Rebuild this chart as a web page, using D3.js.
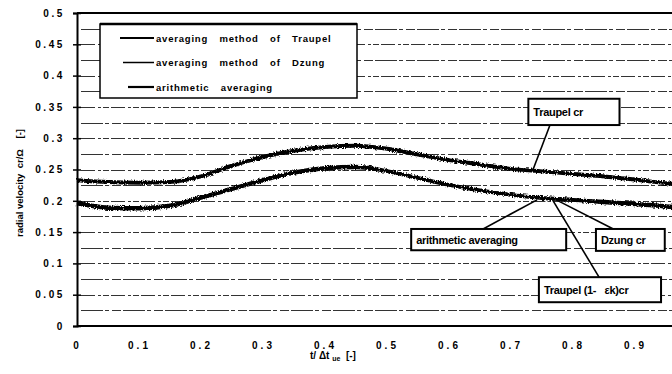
<!DOCTYPE html>
<html>
<head>
<meta charset="utf-8">
<script src="https://cdn.jsdelivr.net/npm/d3@7"></script>
<style>
  body { margin: 0; background: #fff; }
  svg { display: block; }
  text { font-family: "Liberation Sans", Arial, sans-serif; fill: #000; white-space: pre; }
</style>
</head>
<body>
<div id="chart"></div>
<script>
// chart values
const timeSteps   = [0, 0.05, 0.1, 0.15, 0.2, 0.25, 0.3, 0.35, 0.4, 0.45, 0.5, 0.55, 0.6, 0.65, 0.7, 0.75, 0.8, 0.85, 0.9, 0.95, 1.0];
const traupel     = [0.233, 0.230, 0.229, 0.230, 0.239, 0.256, 0.270, 0.280, 0.286, 0.288, 0.283, 0.274, 0.265, 0.258, 0.251, 0.247, 0.243, 0.239, 0.234, 0.228, 0.225];
const dzung       = [0.195, 0.188, 0.187, 0.191, 0.204, 0.218, 0.232, 0.244, 0.251, 0.253, 0.247, 0.236, 0.225, 0.216, 0.209, 0.204, 0.201, 0.197, 0.194, 0.190, 0.186];
const arithmetic  = [0.197, 0.190, 0.189, 0.193, 0.206, 0.220, 0.234, 0.246, 0.253, 0.255, 0.248, 0.237, 0.226, 0.217, 0.210, 0.205, 0.202, 0.199, 0.196, 0.192, 0.188];
const yTicks      = [0, 0.05, 0.1, 0.15, 0.2, 0.25, 0.3, 0.35, 0.4, 0.45, 0.5];
const xTicks      = [0, 0.1, 0.2, 0.3, 0.4, 0.5, 0.6, 0.7, 0.8, 0.9, 1];
const legendNames = ["averaging method of Traupel", "averaging method of Dzung", "arithmetic averaging"];

const width = 672, height = 374;
const margin = {top: 13, left: 77, bottom: 48};

let svg = d3.select("#chart").append("svg")
    .attr("width", width)
    .attr("height", height);

// rough scan look for the measured curves
let defs = svg.append("defs");
let rough = defs.append("filter").attr("id", "rough")
    .attr("x", "-5%").attr("y", "-20%").attr("width", "110%").attr("height", "140%");
rough.append("feTurbulence").attr("type", "fractalNoise").attr("baseFrequency", "0.9 0.6")
    .attr("numOctaves", 2).attr("seed", 3).attr("result", "noise");
rough.append("feDisplacementMap").attr("in", "SourceGraphic").attr("in2", "noise")
    .attr("scale", 4).attr("xChannelSelector", "R").attr("yChannelSelector", "G");

let x = d3.scaleLinear().domain([0, 1]).range([margin.left, 697]);
let y = d3.scaleLinear().domain([0, 0.5]).range([height - margin.bottom, margin.top]);

// horizontal dashed grid every 0.025
let gridVals = d3.range(1, 20).map(i => i * 0.025);
svg.append("g").selectAll("line").data(gridVals).enter()
    .append("line")
    .attr("x1", x(0) + 4).attr("x2", width)
    .attr("y1", d => Math.round(y(d)) + 0.5).attr("y2", d => Math.round(y(d)) + 0.5)
    .attr("stroke", "#333")
    .attr("stroke-width", 1)
    .attr("stroke-dasharray", (d, i) => i % 2 ? "14 3 3 2 6 2" : "22 2 4 3 9 2");

// frame: top, bottom, left
svg.append("line").attr("x1", x(0)).attr("x2", width).attr("y1", y(0.5)).attr("y2", y(0.5))
    .attr("stroke", "#000").attr("stroke-width", 2);
svg.append("line").attr("x1", x(0)).attr("x2", width).attr("y1", y(0)).attr("y2", y(0))
    .attr("stroke", "#000").attr("stroke-width", 2);

// y axis
let yAxis = svg.append("g")
    .attr("transform", `translate(${x(0)},0)`)
    .call(d3.axisLeft(y).tickValues(yTicks).tickSize(4).tickPadding(8)
        .tickFormat(d => d === 0 ? "0" : d3.format("")(+d.toFixed(2))));
yAxis.select(".domain").attr("stroke", "#000").attr("stroke-width", 2);
yAxis.selectAll(".tick line").attr("stroke", "#000").attr("stroke-width", 1.5).attr("x2", 4).attr("x1", -4);
yAxis.selectAll(".tick text")
    .style("font-size", "10px").style("font-weight", "bold").style("letter-spacing", "2.6px");

// x axis (the "1" label sits at the cropped right edge, as in the scan)
let xAxis = svg.append("g")
    .attr("transform", `translate(0,${y(0)})`)
    .call(d3.axisBottom(x).tickValues(xTicks).tickSize(0).tickPadding(16)
        .tickFormat(d => d === 0 || d === 1 ? String(d) : d3.format("")(+d.toFixed(1))));
xAxis.select(".domain").remove();
xAxis.selectAll(".tick text")
    .style("font-size", "10px").style("font-weight", "bold").style("letter-spacing", "3px");

// axis titles
let yTitle = svg.append("text")
    .attr("transform", `translate(23, ${183}) rotate(-90)`)
    .style("text-anchor", "middle")
    .style("font-size", "9.5px")
    .style("font-weight", "bold");
yTitle.append("tspan").text("radial velocity  cr/\u03a9    [-]");

let xTitle = svg.append("text")
    .attr("x", 310).attr("y", 359)
    .style("font-size", "10px").style("font-weight", "bold");
xTitle.append("tspan").text("t/ \u0394t ");
xTitle.append("tspan").attr("dy", 2).style("font-size", "7px").text("ue");
xTitle.append("tspan").attr("dy", -2).text("  [-]");

// curves
let line = d3.line()
    .x((d, i) => x(timeSteps[i]))
    .y(d => y(d))
    .curve(d3.curveMonotoneX);

let curves = svg.append("g").attr("filter", "url(#rough)");
[traupel, dzung, arithmetic].forEach(function(series, k) {
    curves.append("path")
        .datum(series)
        .attr("d", line)
        .attr("fill", "none")
        .attr("stroke", "#000")
        .attr("stroke-width", k === 0 ? 4 : 3.2);
});

// legend
let legend = svg.append("g").attr("transform", "translate(100,24)");
legend.append("rect")
    .attr("width", 257).attr("height", 74)
    .attr("fill", "#fff").attr("stroke", "#000").attr("stroke-width", 1.5);
legend.append("line").attr("x1", 0).attr("x2", 257).attr("y1", 0).attr("y2", 0)
    .attr("stroke", "#000").attr("stroke-width", 2.5);
legendNames.forEach(function(name, i) {
    let row = legend.append("g").attr("transform", `translate(0,${14 + i * 24.5})`);
    row.append("line")
        .attr("x1", i === 2 ? 28 : 20 + i * 3).attr("x2", 54)
        .attr("stroke", "#000").attr("stroke-width", i === 1 ? 1.5 : 2.2);
    row.append("text")
        .attr("x", 56).attr("y", 3.5)
        .style("font-size", "9.5px")
        .style("font-weight", "bold")
        .style("letter-spacing", "0.8px")
        .style("word-spacing", "8px")
        .text(name);
});

// callouts (anchor on the curves, box in data units)
const callouts = [
    {label: "Traupel cr",          tx: 0.735, ty: traupel[15] + 0.0015, bx: 0.728, by: 0.363, bw: 0.147, bh: 0.042, px: 0.779},
    {label: "arithmetic averaging", tx: 0.742, ty: 0.2015, bx: 0.539, by: 0.155, bw: 0.250, bh: 0.034, px: 0.655},
    {label: "Dzung cr",            tx: 0.773, ty: 0.2015, bx: 0.837, by: 0.155, bw: 0.111, bh: 0.035, px: 0.865},
    {label: "Traupel (1-   \u03b5k)cr", tx: 0.767, ty: 0.2015, bx: 0.745, by: 0.078, bw: 0.197, bh: 0.040, px: 0.842}
];
let notes = svg.append("g");
callouts.forEach(function(c) {
    notes.append("line")
        .attr("x1", x(c.px)).attr("y1", y(c.by))
        .attr("x2", x(c.tx)).attr("y2", y(c.ty))
        .attr("stroke", "#000").attr("stroke-width", 1.6);
    notes.append("rect")
        .attr("x", x(c.bx)).attr("y", y(c.by))
        .attr("width", x(c.bw) - x(0)).attr("height", y(0) - y(c.bh))
        .attr("fill", "#fff").attr("stroke", "#000").attr("stroke-width", 2);
    notes.append("text")
        .attr("x", x(c.bx) + 5)
        .attr("y", y(c.by) + (y(0) - y(c.bh)) / 2 + 4)
        .style("font-size", "11px")
        .style("font-weight", "bold")
        .style("letter-spacing", "-0.3px")
        .text(c.label);
});
</script>
</body>
</html>
